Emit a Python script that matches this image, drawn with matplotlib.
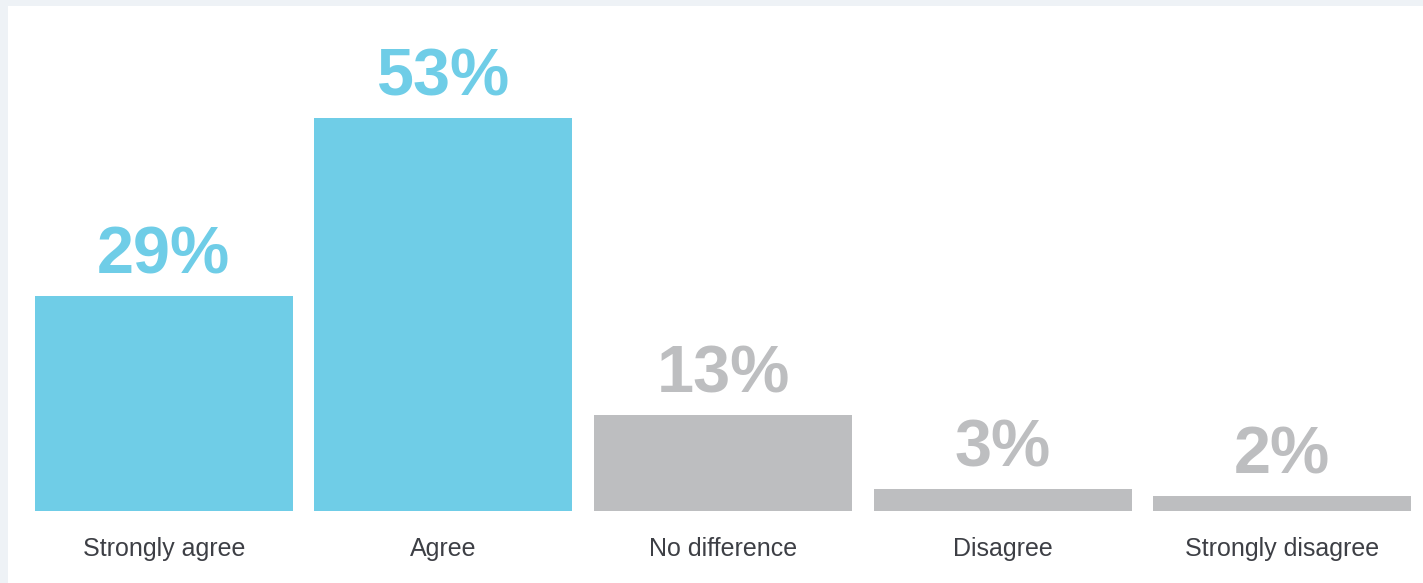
import matplotlib.pyplot as plt
from matplotlib.patches import Rectangle

# Survey responses (share of respondents, %)
categories = ["Strongly agree", "Agree", "No difference", "Disagree", "Strongly disagree"]
values = [29, 53, 13, 3, 2]
labels = ["29%", "53%", "13%", "3%", "2%"]

blue = "#6fcde7"
grey = "#bdbec0"
colors = [blue, blue, grey, grey, grey]

plt.rcParams['font.family'] = ['Liberation Sans', 'DejaVu Sans']

fig = plt.figure(figsize=(14.23, 5.83), dpi=100)
fig.patch.set_facecolor("#eef2f6")

# white panel behind the chart
fig.patches.append(Rectangle((8 / 1423, 0), 1, 1 - 6 / 583,
                             transform=fig.transFigure, facecolor="white",
                             edgecolor="none", zorder=-1))

ax = fig.add_axes([24 / 1423, 72 / 583, 1398 / 1423, 445.2 / 583])
ax.set_facecolor("none")

x = range(len(categories))
bars = ax.bar(x, values, width=0.923, color=colors)

for bar, val, lab, c in zip(bars, values, labels, colors):
    ax.annotate(lab, (bar.get_x() + bar.get_width() / 2, val),
                xytext=(0, 6), textcoords="offset points",
                ha="center", va="bottom", fontsize=48, fontweight="bold",
                color=c)

ax.set_xlim(-0.5, 4.5)
ax.set_ylim(0, 60)
ax.set_xticks(list(x))
ax.set_xticklabels(categories, fontsize=18, color="#3d3f45")
ax.tick_params(axis="x", length=0, pad=19)
ax.set_yticks([])
for s in ax.spines.values():
    s.set_visible(False)

fig.savefig("out.png", dpi=100, facecolor=fig.get_facecolor())
